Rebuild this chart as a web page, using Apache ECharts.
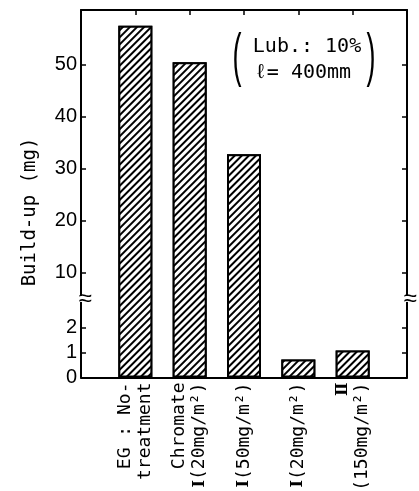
<!DOCTYPE html>
<html>
<head>
<meta charset="utf-8">
<script src="https://cdn.jsdelivr.net/npm/echarts@6/dist/echarts.min.js"></script>
<style>
html,body{margin:0;padding:0;background:#fff;}
#c{width:419px;height:491px;}
</style>
</head>
<body>
<div id="c"></div>
<script>
// ---- data ----
const categories = ['EG : No-\ntreatment', 'Chromate\nⅠ(20mg/m²)', 'Ⅰ(50mg/m²)', 'Ⅰ(20mg/m²)', 'Ⅱ\n(150mg/m²)'];
const buildUp = [57.4, 50.4, 32.7, 0.72, 1.08];
const lowerTicks = [0, 1, 2];
const upperTicks = [10, 20, 30, 40, 50];
const yTitle = 'Build-up (mg)';
const noteLine1 = 'Lub.: 10%';
const noteLine2 = 'ℓ= 400mm';

// ---- broken-axis scale (lower part 0..~3, upper part ~5..60, compressed) ----
const LOWER_MAX = 3.13;
const UPPER_MIN = 4.87;
const UPPER_RATIO = 0.2072;
const TOP_VALUE = 60.44;
function f(v) { return v <= LOWER_MAX ? v : LOWER_MAX + (v - UPPER_MIN) * UPPER_RATIO; }
const yMax = f(TOP_VALUE);
const tickVals = lowerTicks.concat(upperTicks);
const tickPos = tickVals.map(f);
function labelFor(val) {
  for (let i = 0; i < tickPos.length; i++) if (Math.abs(tickPos[i] - val) < 1e-6) return String(tickVals[i]);
  return '';
}
const xPos = categories.map((c, i) => i + 1);
// wrap roman numerals in a rich-text style so they get serif glyphs
function richLabel(s) { return s.replace(/([ⅠⅡ])/g, '{r|$1}'); }

const chart = echarts.init(document.getElementById('c'), null, {renderer: 'canvas'});
const mono = '"DejaVu Sans Mono", "Liberation Mono", monospace';
const sans = '"Liberation Sans", Arial, sans-serif';

chart.setOption({
  animation: false,
  backgroundColor: '#fff',
  grid: {left: 81, right: 12, top: 10, bottom: 113.5, containLabel: false, outerBoundsMode: 'none'},
  xAxis: [{
    type: 'value', min: 0, max: categories.length + 1, position: 'bottom',
    splitLine: {show: false},
    axisLine: {show: true, onZero: false, lineStyle: {color: '#000', width: 2}},
    axisTick: {show: false},
    axisLabel: {
      customValues: xPos, rotate: 90, margin: 5, hideOverlap: false,
      formatter: v => richLabel(categories[Math.round(v) - 1] || ''),
      fontFamily: mono, fontSize: 18, lineHeight: 20, color: '#000',
      rich: {r: {fontFamily: '"DejaVu Serif", "Noto Serif CJK JP", serif', fontWeight: 'bold', fontSize: 16, lineHeight: 20, color: '#000'}}
    }
  }, {
    type: 'value', min: 0, max: categories.length + 1, position: 'top',
    splitLine: {show: false},
    axisLine: {show: true, onZero: false, lineStyle: {color: '#000', width: 2}},
    axisTick: {show: true, inside: true, length: 5, customValues: xPos, lineStyle: {color: '#000', width: 1.5}},
    axisLabel: {show: false}
  }],
  yAxis: [{
    type: 'value', min: 0, max: yMax, position: 'left',
    splitLine: {show: false},
    axisLine: {show: true, onZero: false, lineStyle: {color: '#000', width: 2}},
    axisTick: {show: true, inside: true, length: 5, customValues: tickPos, lineStyle: {color: '#000', width: 1.5}},
    axisLabel: {customValues: tickPos, formatter: v => labelFor(v), margin: 4,
      fontFamily: sans, fontSize: 20, color: '#000'}
  }, {
    type: 'value', min: 0, max: yMax, position: 'right',
    splitLine: {show: false},
    axisLine: {show: true, onZero: false, lineStyle: {color: '#000', width: 2}},
    axisTick: {show: true, inside: true, length: 5, customValues: tickPos, lineStyle: {color: '#000', width: 1.5}},
    axisLabel: {show: false}
  }],
  series: [{
    type: 'bar',
    xAxisIndex: 0, yAxisIndex: 0,
    barWidth: 34,
    data: buildUp.map((v, i) => [xPos[i], f(v)]),
    itemStyle: {
      color: '#fff', borderColor: '#000', borderWidth: 2,
      decal: {symbol: 'rect', symbolSize: 1, color: '#000', backgroundColor: '#fff',
        dashArrayX: [1, 0], dashArrayY: [1.6, 2.2], rotation: -Math.PI / 4}
    }
  }]
});

// break marks and annotations
const pL = chart.convertToPixel({gridIndex: 0}, [0, LOWER_MAX]);
const pR = chart.convertToPixel({gridIndex: 0}, [categories.length + 1, LOWER_MAX]);
function breakMark(x, y, dx) {
  return [
    {type: 'rect', shape: {x: x - 3, y: y - 3, width: 6, height: 6}, style: {fill: '#fff'}, z: 100},
    {type: 'text', x: x + dx, y: y, z: 101,
      style: {text: '≈', fontSize: 24, fontFamily: sans, fill: '#000', align: 'center', verticalAlign: 'middle'}}
  ];
}
chart.setOption({
  graphic: [].concat(breakMark(pL[0], pL[1], 4), breakMark(pR[0], pR[1], 3), [
    {type: 'text', x: 30, y: 212, rotation: Math.PI / 2,
      style: {text: yTitle, fontSize: 19, fontFamily: mono, fill: '#000', align: 'center', verticalAlign: 'middle'}},
    {type: 'text', x: 307, y: 47,
      style: {text: noteLine1, fontSize: 20, fontFamily: mono, fill: '#000', align: 'center', verticalAlign: 'middle'}},
    {type: 'text', x: 303, y: 73,
      style: {text: noteLine2, fontSize: 20, fontFamily: mono, fill: '#000', align: 'center', verticalAlign: 'middle'}},
    {type: 'text', x: 237, y: 58, scaleX: 0.45,
      style: {text: '(', fontSize: 60, fontFamily: sans, fill: '#000', align: 'center', verticalAlign: 'middle'}},
    {type: 'text', x: 371, y: 58, scaleX: 0.45,
      style: {text: ')', fontSize: 60, fontFamily: sans, fill: '#000', align: 'center', verticalAlign: 'middle'}}
  ])
});
</script>
</body>
</html>
